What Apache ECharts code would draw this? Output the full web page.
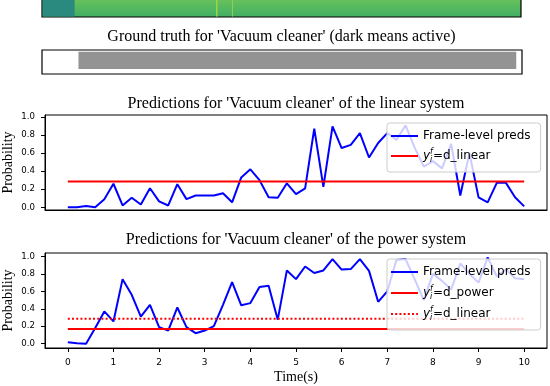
<!DOCTYPE html>
<html><head><meta charset="utf-8">
<script src="https://cdn.jsdelivr.net/npm/echarts@6/dist/echarts.min.js"></script>
<style>html,body{margin:0;padding:0;background:#fff}#c{width:550px;height:386px}</style>
</head><body><div id="c"></div>
<script>
// ---- data ----
const times = [0,0.2,0.4,0.6,0.8,1,1.2,1.4,1.6,1.8,2,2.2,2.4,2.6,2.8,3,3.2,3.4,3.6,3.8,4,4.2,4.4,4.6,4.8,5,5.2,5.4,5.6,5.8,6,6.2,6.4,6.6,6.8,7,7.2,7.4,7.6,7.8,8,8.2,8.4,8.6,8.8,9,9.2,9.4,9.6,9.8,10];
const linearPreds = [0.00,0.00,0.015,0.00,0.09,0.26,0.02,0.105,0.03,0.21,
  0.065,0.02,0.255,0.09,0.13,0.13,0.13,0.155,0.055,0.33,
  0.42,0.30,0.11,0.105,0.265,0.145,0.21,0.87,0.225,0.895,
  0.655,0.69,0.82,0.55,0.71,0.82,0.745,0.905,0.66,0.45,
  0.51,0.43,0.70,0.13,0.60,0.11,0.055,0.27,0.27,0.11,0.01];
const powerPreds = [0.015,0.005,0.0,0.18,0.37,0.255,0.74,0.56,0.31,0.445,
  0.19,0.15,0.415,0.19,0.12,0.15,0.20,0.445,0.705,0.44,
  0.465,0.65,0.665,0.275,0.84,0.74,0.885,0.81,0.84,0.97,
  0.85,0.855,0.97,0.835,0.48,0.60,0.96,0.97,0.74,0.50,
  0.80,0.72,0.62,0.92,0.80,0.70,0.99,0.77,0.85,0.75,0.74];
const thresholdLinear = 0.285;
const thresholdPower = 0.168;
const thresholdSpan = [0, 10];
const gtActive = [[0.76, 9.88]];
const yTicks = [0, 0.2, 0.4, 0.6, 0.8, 1.0];
const xTicks = [0,1,2,3,4,5,6,7,8,9,10];
const titles = [
  "Ground truth for 'Vacuum cleaner' (dark means active)",
  "Predictions for 'Vacuum cleaner' of the linear system",
  "Predictions for 'Vacuum cleaner' of the power system"
];
const legendNames = {
  predsA: 'Frame-level preds',
  linA: '{y|y}{i|i}{f|f}{t|=d_linear}',
  predsB: 'Frame-level preds',
  powB: '{y|y}{i|i}{f|f}{t|=d_power}',
  linB: '{y|y}{i|i}{f|f}{t|=d_linear}'
};

// ---- chart ----
const chart = echarts.init(document.getElementById('c'), null, {renderer: 'canvas'});
const pair = (xs, ys) => xs.map((x, i) => [x, ys[i]]);
const hline = v => thresholdSpan.map(x => [x, v]);
const serif = 'Liberation Serif';
const sans = 'DejaVu Sans';

function yAxisFor(gi, min, max) {
  return {
    gridIndex: gi, type: 'value', min: min, max: max,
    axisLine: {show: true, onZero: false, lineStyle: {color: '#000', width: 1}},
    axisTick: {show: true, customValues: yTicks, length: 4, lineStyle: {color: '#000'}},
    axisLabel: {customValues: yTicks, formatter: v => v.toFixed(1), fontFamily: sans, fontSize: 8.6, color: '#000', margin: 10},
    splitLine: {show: false},
    name: 'Probability', nameLocation: 'middle', nameGap: 30, nameRotate: 90, nameMoveOverlap: false,
    nameTextStyle: {fontFamily: serif, fontSize: 14, color: '#000'}
  };
}
const legendRich = {
  y: {fontFamily: sans, fontStyle: 'italic', fontSize: 12, color: '#000', lineHeight: 16},
  i: {fontFamily: sans, fontStyle: 'italic', fontSize: 8, color: '#000', verticalAlign: 'bottom', width: 0.01, lineHeight: 16},
  f: {fontFamily: sans, fontStyle: 'italic', fontSize: 8, color: '#000', verticalAlign: 'top', lineHeight: 16},
  t: {fontFamily: sans, fontSize: 12, color: '#000', lineHeight: 16}
};
function legendFor(names, top, gap, pad) {
  return {
    data: names, orient: 'vertical', left: 387, top: top,
    itemWidth: 27, itemHeight: 1, itemGap: gap, itemTextGap: 10,
    padding: pad,
    backgroundColor: 'rgba(255,255,255,0.8)', borderColor: '#cccccc', borderWidth: 1, borderRadius: 3,
    formatter: n => legendNames[n],
    textStyle: {fontFamily: sans, fontSize: 12, color: '#000', lineHeight: 16, rich: legendRich},
    selectedMode: false
  };
}

const gridBase = {show: true, borderColor: '#000', borderWidth: 1, outerBoundsMode: 'none', containLabel: false};
const option = {
  animation: false,
  backgroundColor: '#fff',
  graphic: [
    {type: 'rect', shape: {x: 42, y: -2, width: 479, height: 19}, z: 1,
     style: {fill: new echarts.graphic.LinearGradient(0, 0, 0, 1, [{offset: 0, color: '#6cc45a'}, {offset: 1, color: '#3fae64'}]), stroke: '#000', lineWidth: 1.2}},
    {type: 'rect', shape: {x: 42.6, y: -2, width: 32, height: 18.4}, z: 2, style: {fill: '#2a8a80'}},
    {type: 'rect', shape: {x: 216, y: -2, width: 1.5, height: 18.4}, z: 2, style: {fill: '#9ad44a'}},
    {type: 'rect', shape: {x: 232, y: -2, width: 1, height: 18.4}, z: 2, style: {fill: '#8fcf50'}},
    {type: 'text', x: 281.5, y: 37, z: 5, style: {text: titles[0], fontFamily: serif, fontSize: 16, fill: '#000', align: 'center', verticalAlign: 'middle'}},
    {type: 'text', x: 296, y: 104, z: 5, style: {text: titles[1], fontFamily: serif, fontSize: 16, fill: '#000', align: 'center', verticalAlign: 'middle'}},
    {type: 'text', x: 296, y: 240, z: 5, style: {text: titles[2], fontFamily: serif, fontSize: 16, fill: '#000', align: 'center', verticalAlign: 'middle'}}
  ],
  grid: [
    Object.assign({}, gridBase, {left: 42, top: 50, width: 480, height: 24, borderWidth: 1.2, backgroundColor: '#fff'}),
    Object.assign({}, gridBase, {left: 45, top: 115, width: 502, height: 95}),
    Object.assign({}, gridBase, {left: 45, top: 253, width: 502, height: 95})
  ],
  xAxis: [
    {gridIndex: 0, type: 'value', min: 0, max: 10, show: false},
    {gridIndex: 1, type: 'value', min: -0.5, max: 10.5,
     axisLine: {show: true, onZero: false, lineStyle: {color: '#000'}}, axisTick: {show: false}, axisLabel: {show: false}, splitLine: {show: false}},
    {gridIndex: 2, type: 'value', min: -0.5, max: 10.5,
     axisLine: {show: true, onZero: false, lineStyle: {color: '#000'}},
     axisTick: {show: true, customValues: xTicks, length: 4, lineStyle: {color: '#000'}},
     axisLabel: {customValues: xTicks, fontFamily: sans, fontSize: 9, color: '#000', margin: 10},
     splitLine: {show: false},
     name: 'Time(s)', nameLocation: 'middle', nameGap: 22, nameMoveOverlap: false,
     nameTextStyle: {fontFamily: serif, fontSize: 14, color: '#000'}}
  ],
  yAxis: [
    {gridIndex: 0, type: 'value', min: 0, max: 1, show: false},
    yAxisFor(1, -0.03, 1.02),
    yAxisFor(2, -0.05, 1.04)
  ],
  legend: [
    legendFor(['predsA', 'linA'], 123, 4, [5, 10, 8, 3]),
    legendFor(['predsB', 'powB', 'linB'], 259, 5, [5, 10, 8, 3])
  ],
  series: [
    {type: 'custom', xAxisIndex: 0, yAxisIndex: 0, data: gtActive,
     renderItem: (params, api) => {
       const a = api.coord([api.value(0), 0.21]);
       const b = api.coord([api.value(1), 0.93]);
       return {type: 'rect', shape: {x: a[0], y: b[1], width: b[0] - a[0], height: a[1] - b[1]}, style: {fill: '#939393'}};
     }},
    {name: 'predsA', type: 'line', xAxisIndex: 1, yAxisIndex: 1, data: pair(times, linearPreds), symbol: 'none',
     lineStyle: {color: '#0000ff', width: 2}, itemStyle: {color: '#0000ff'}},
    {name: 'linA', type: 'line', xAxisIndex: 1, yAxisIndex: 1, data: hline(thresholdLinear), symbol: 'none',
     lineStyle: {color: '#ff0000', width: 2}, itemStyle: {color: '#ff0000'}},
    {name: 'predsB', type: 'line', xAxisIndex: 2, yAxisIndex: 2, data: pair(times, powerPreds), symbol: 'none',
     lineStyle: {color: '#0000ff', width: 2}, itemStyle: {color: '#0000ff'}},
    {name: 'powB', type: 'line', xAxisIndex: 2, yAxisIndex: 2, data: hline(thresholdPower), symbol: 'none',
     lineStyle: {color: '#ff0000', width: 2}, itemStyle: {color: '#ff0000'}},
    {name: 'linB', type: 'line', xAxisIndex: 2, yAxisIndex: 2, data: hline(thresholdLinear), symbol: 'none',
     lineStyle: {color: '#ff0000', width: 2, type: [2, 2.2]}, itemStyle: {color: '#ff0000'}}
  ]
};
chart.setOption(option);
</script>
</body></html>
